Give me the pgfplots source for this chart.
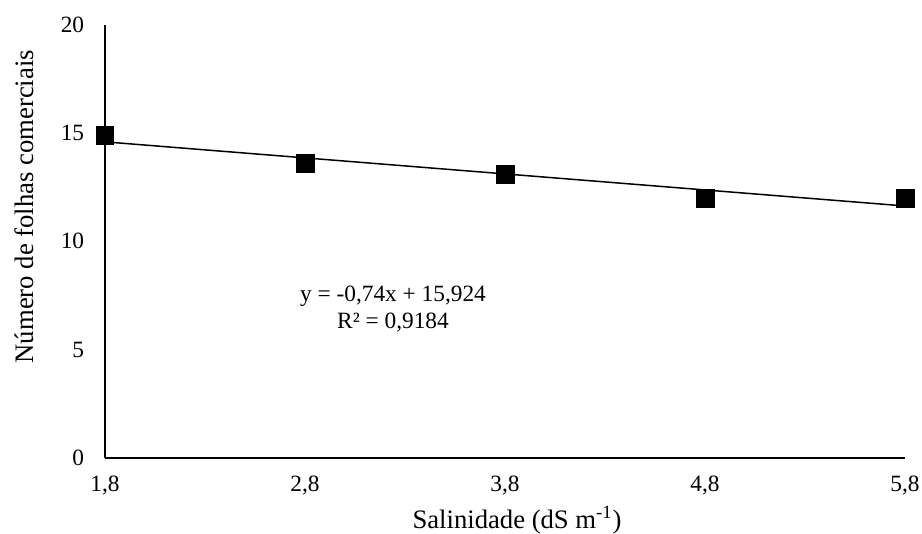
\documentclass[border=0pt]{standalone}
\usepackage{fontspec}
\setmainfont{Liberation Serif}
\usepackage{pgfplots}
\pgfplotsset{compat=1.18}

\begin{document}
\begin{tikzpicture}
% page frame: 922 x 533 px at 0.6 pt per px, axis corner at (105,458) px
\path[use as bounding box] (-63pt,-45pt) rectangle (490.2pt,274.8pt);
\begin{axis}[
  at={(0,0)}, anchor=south west,
  scale only axis,
  width=480pt, height=260pt,
  xmin=1.8, xmax=5.8,
  ymin=0, ymax=20,
  axis x line*=bottom, axis y line*=left,
  axis line style={line width=1.2pt, -},
  major tick length=0pt,
  xtick={1.8,2.8,3.8,4.8,5.8},
  xticklabels={{1,8},{2,8},{3,8},{4,8},{5,8}},
  ytick={0,5,10,15,20},
  /pgf/number format/assume math mode=true,
  tick label style={font=\fontsize{14}{16}\selectfont},
  yticklabel style={xshift=-9pt},
  xticklabel style={yshift=-7pt},
  xlabel={Salinidade (dS m\textsuperscript{-1})},
  ylabel={Número de folhas comerciais},
  label style={font=\fontsize{16}{19}\selectfont},
  xlabel style={at={(axis description cs:0.515,-0.143)}, anchor=center},
  ylabel style={at={(axis description cs:-0.101,0.58)}, anchor=center},
  clip=false,
]
% trend line y = -0,74x + 15,924
\addplot[black, line width=0.9pt] coordinates {(1.8,14.592) (5.8,11.632)};
\addplot[only marks, mark=square*, mark size=5.3pt, black] coordinates {
  (1.8,14.9) (2.8,13.6) (3.8,13.1) (4.8,12.0) (5.8,12.0)};
\node[align=center, font=\fontsize{14}{16}\selectfont] at (axis cs:3.24,6.89)
  {y = -0,74x + 15,924\\R² = 0,9184};
\end{axis}
\end{tikzpicture}
\end{document}
